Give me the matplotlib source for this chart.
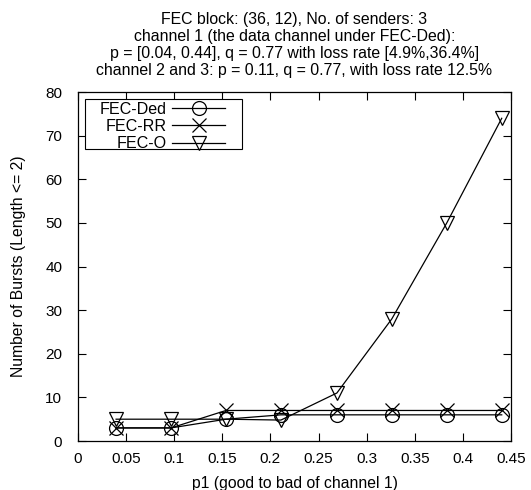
import matplotlib
matplotlib.use("Agg")
import matplotlib.pyplot as plt
from matplotlib.patches import Rectangle

plt.rcParams['font.family'] = ['Liberation Sans', 'DejaVu Sans']

p1 = [0.04, 0.097, 0.154, 0.211, 0.269, 0.326, 0.383, 0.44]
fec_ded = [3, 3, 5, 6, 6, 6, 6, 6]
fec_rr = [3, 3, 7, 7, 7, 7, 7, 7]
fec_o = [5, 5, 5, 4.8, 11, 28, 50, 74]

fig = plt.figure(figsize=(5.31, 4.9), dpi=100)
ax = fig.add_axes([0.146, 0.1, 0.817, 0.712])

ax.plot(p1, fec_ded, color='black', lw=0.9, marker='o', ms=10, mfc='none', mec='black', mew=0.9, label='FEC-Ded')
ax.plot(p1, fec_rr, color='black', lw=0.9, marker='x', ms=10, mec='black', mew=0.9, label='FEC-RR')
ax.plot(p1, fec_o, color='black', lw=0.9, marker='v', ms=10, mfc='none', mec='black', mew=0.9, label='FEC-O')

ax.set_xlim(0, 0.45)
ax.set_ylim(0, 80)
ax.set_xticks([0, 0.05, 0.1, 0.15, 0.2, 0.25, 0.3, 0.35, 0.4, 0.45])
ax.set_xticklabels(['0', '0.05', '0.1', '0.15', '0.2', '0.25', '0.3', '0.35', '0.4', '0.45'])
ax.set_yticks(range(0, 81, 10))
ax.tick_params(direction='in', top=True, right=True, length=6, labelsize=11, width=0.8)
ax.tick_params(axis='x', pad=8)
ax.tick_params(axis='y', pad=11)
for s in ax.spines.values():
    s.set_linewidth(0.9)

ax.set_xlabel('p1 (good to bad of channel 1)', fontsize=11.3, labelpad=7)
ax.set_ylabel('Number of Bursts (Length <= 2)', fontsize=11.3, labelpad=14)
ax.set_title('FEC block: (36, 12), No. of senders: 3\n'
             'channel 1 (the data channel under FEC-Ded):\n'
             'p = [0.04, 0.44], q = 0.77 with loss rate [4.9%,36.4%]\n'
             'channel 2 and 3: p = 0.11, q = 0.77, with loss rate 12.5%',
             fontsize=11.4, linespacing=1.18, pad=12)

box = Rectangle((0.0173, 0.837), 0.362, 0.143, transform=ax.transAxes,
                facecolor='white', edgecolor='black', lw=0.8, zorder=4)
ax.add_patch(box)

leg = ax.legend(loc='upper left', bbox_to_anchor=(0.052, 0.973), markerfirst=False,
                frameon=False, fontsize=11.6, handlelength=3.3, borderpad=0,
                labelspacing=0.15, handletextpad=0.3, borderaxespad=0)
leg.set_zorder(5)
for t in leg.get_texts():
    t.set_ha('right')
leg._legend_box.align = 'right'

fig.savefig('out.png', dpi=100)
